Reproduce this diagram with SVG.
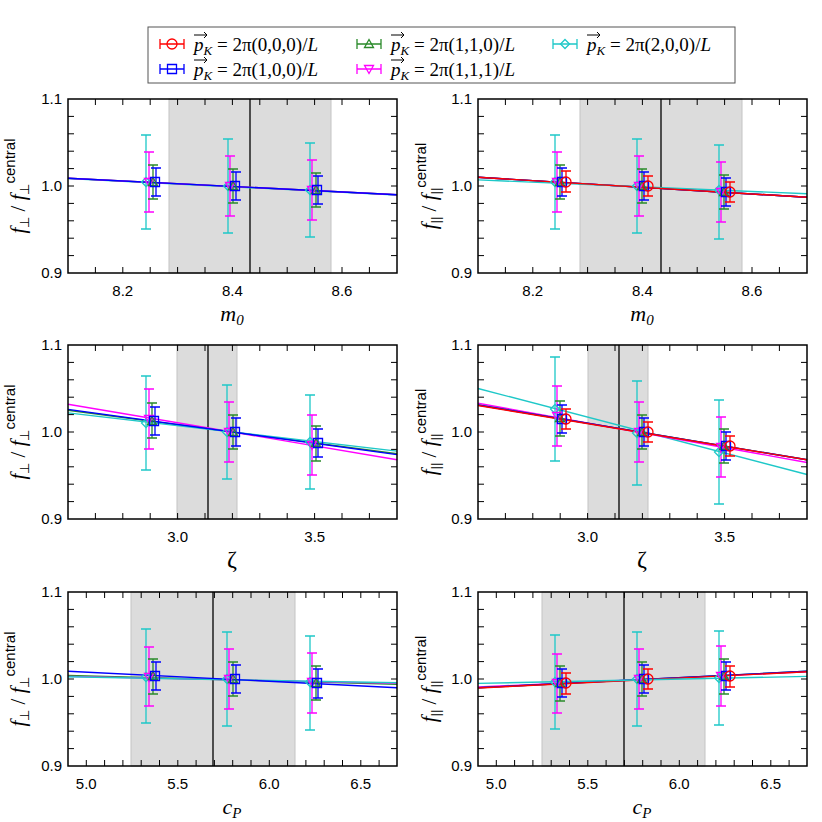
<svg xmlns="http://www.w3.org/2000/svg" xmlns:xlink="http://www.w3.org/1999/xlink" width="822" height="822" viewBox="0 0 822 822">
<style>
.frame{fill:none;stroke:#000;stroke-width:1.5}
.tk{fill:none;stroke:#000;stroke-width:1}
.shade{fill:#dcdcdc;stroke:#c4c4c4;stroke-width:1}
.cl{stroke:#000;stroke-width:1.3}
.num{font-family:"Liberation Sans",Arial,sans-serif;font-size:15px;fill:#000}
.xl{font-family:"Liberation Serif","Times New Roman",serif;font-style:italic;font-size:22px;fill:#000;text-anchor:middle}
.xlu{font-family:"Liberation Serif","Times New Roman",serif;font-size:24px;fill:#000;text-anchor:middle}
.yl{font-family:"Liberation Serif","Times New Roman",serif;font-size:21px;fill:#000;text-anchor:middle}
.it{font-style:italic}
.sub{font-family:"Liberation Sans",Arial,sans-serif;font-size:13px;font-style:normal}
.sup{font-family:"Liberation Sans",Arial,sans-serif;font-size:15px;font-style:normal}
.leg{font-family:"Liberation Serif","Times New Roman",serif;font-size:19px;fill:#000}
.r{stroke:#ff0000}.b{stroke:#0000ff}.g{stroke:#2a8a2a}.m{stroke:#ff00ff}.c{stroke:#1ec8c8}
.fit{fill:none;stroke-width:1.4}
.eb{fill:none;stroke-width:1.3}
.mk{fill:none;stroke-width:1.3}
</style>
<defs>
<path id="circ" d="M-5,0a5,5 0 1,0 10,0a5,5 0 1,0 -10,0"/>
<path id="sq" d="M-4.5,-4.5h9v9h-9z"/>
<path id="tri" d="M0,-4.5L4.5,3.5H-4.5z"/>
<path id="itri" d="M0,4.5L4.5,-3.5H-4.5z"/>
<path id="dia" d="M0,-4.5L4.5,0L0,4.5L-4.5,0z"/>
<path id="yt" d="M0,17.4h6M0,34.8h6M0,52.2h6M0,69.6h6M0,87h6M0,104.4h6M0,121.8h6M0,139.2h6M0,156.6h6M323,17.4h6M323,34.8h6M323,52.2h6M323,69.6h6M323,87h6M323,104.4h6M323,121.8h6M323,139.2h6M323,156.6h6"/>
<path id="xt1" d="M27.4,174v-6M54.8,174v-6M82.2,174v-6M109.6,174v-6M137,174v-6M164.4,174v-6M191.8,174v-6M219.2,174v-6M246.6,174v-6M274,174v-6M301.4,174v-6M27.4,0v6M54.8,0v6M82.2,0v6M109.6,0v6M137,0v6M164.4,0v6M191.8,0v6M219.2,0v6M246.6,0v6M274,0v6M301.4,0v6"/>
<path id="xt2" d="M18.3,174v-6M36.6,174v-6M54.9,174v-6M73.2,174v-6M91.5,174v-6M109.8,174v-6M128.1,174v-6M146.4,174v-6M164.7,174v-6M183,174v-6M201.3,174v-6M219.6,174v-6M237.9,174v-6M256.2,174v-6M274.5,174v-6M292.8,174v-6M311.1,174v-6M18.3,0v6M36.6,0v6M54.9,0v6M73.2,0v6M91.5,0v6M109.8,0v6M128.1,0v6M146.4,0v6M164.7,0v6M183,0v6M201.3,0v6M219.6,0v6M237.9,0v6M256.2,0v6M274.5,0v6M292.8,0v6M311.1,0v6"/>
<g id="ylab" class="num" text-anchor="end"><text x="-6" y="5">1.1</text><text x="-6" y="92">1.0</text><text x="-6" y="179">0.9</text></g>
</defs>

<g id="legend">
<rect x="148" y="27" width="587" height="56" fill="#fff" stroke="#555" stroke-width="1"/>
<g class="eb">
<path class="r" d="M160,44h24M160,39v10M184,39v10"/><use href="#circ" x="172" y="44" class="mk r"/>
<path class="b" d="M160,69h24M160,64v10M184,64v10"/><use href="#sq" x="172" y="69" class="mk b"/>
<path class="g" d="M357,44h24M357,39v10M381,39v10"/><use href="#tri" x="369" y="44" class="mk g"/>
<path class="m" d="M357,69h24M357,64v10M381,64v10"/><use href="#itri" x="369" y="69" class="mk m"/>
<path class="c" d="M553,44h24M553,39v10M577,39v10"/><use href="#dia" x="565" y="44" class="mk c"/>
</g>
<g fill="none" stroke="#000" stroke-width="1">
<path d="M194,35h13m-3,-3l3,3l-3,3M194,60h13m-3,-3l3,3l-3,3M391,35h13m-3,-3l3,3l-3,3M391,60h13m-3,-3l3,3l-3,3M587,35h13m-3,-3l3,3l-3,3"/>
</g>
<text class="leg" x="194" y="51"><tspan class="it">p</tspan><tspan class="it" font-size="13" dy="4">K</tspan><tspan dy="-4"> = 2π(0,0,0)/</tspan><tspan class="it">L</tspan></text>
<text class="leg" x="194" y="76"><tspan class="it">p</tspan><tspan class="it" font-size="13" dy="4">K</tspan><tspan dy="-4"> = 2π(1,0,0)/</tspan><tspan class="it">L</tspan></text>
<text class="leg" x="391" y="51"><tspan class="it">p</tspan><tspan class="it" font-size="13" dy="4">K</tspan><tspan dy="-4"> = 2π(1,1,0)/</tspan><tspan class="it">L</tspan></text>
<text class="leg" x="391" y="76"><tspan class="it">p</tspan><tspan class="it" font-size="13" dy="4">K</tspan><tspan dy="-4"> = 2π(1,1,1)/</tspan><tspan class="it">L</tspan></text>
<text class="leg" x="587" y="51"><tspan class="it">p</tspan><tspan class="it" font-size="13" dy="4">K</tspan><tspan dy="-4"> = 2π(2,0,0)/</tspan><tspan class="it">L</tspan></text>
</g>

<g id="ytitles">
<text class="yl" transform="translate(25,186) rotate(-90)"><tspan class="it">f</tspan><tspan class="sub" dy="4">⊥</tspan><tspan dy="-4"> / </tspan><tspan class="it">f</tspan><tspan class="sub" dy="4">⊥</tspan><tspan class="sup" dy="-14">central</tspan></text>
<text class="yl" transform="translate(25,432) rotate(-90)"><tspan class="it">f</tspan><tspan class="sub" dy="4">⊥</tspan><tspan dy="-4"> / </tspan><tspan class="it">f</tspan><tspan class="sub" dy="4">⊥</tspan><tspan class="sup" dy="-14">central</tspan></text>
<text class="yl" transform="translate(25,679) rotate(-90)"><tspan class="it">f</tspan><tspan class="sub" dy="4">⊥</tspan><tspan dy="-4"> / </tspan><tspan class="it">f</tspan><tspan class="sub" dy="4">⊥</tspan><tspan class="sup" dy="-14">central</tspan></text>
<text class="yl" transform="translate(436,186) rotate(-90)"><tspan class="it">f</tspan><tspan class="sub" dy="4">||</tspan><tspan dy="-4"> / </tspan><tspan class="it">f</tspan><tspan class="sub" dy="4">||</tspan><tspan class="sup" dy="-14">central</tspan></text>
<text class="yl" transform="translate(436,432) rotate(-90)"><tspan class="it">f</tspan><tspan class="sub" dy="4">||</tspan><tspan dy="-4"> / </tspan><tspan class="it">f</tspan><tspan class="sub" dy="4">||</tspan><tspan class="sup" dy="-14">central</tspan></text>
<text class="yl" transform="translate(436,679) rotate(-90)"><tspan class="it">f</tspan><tspan class="sub" dy="4">||</tspan><tspan dy="-4"> / </tspan><tspan class="it">f</tspan><tspan class="sub" dy="4">||</tspan><tspan class="sup" dy="-14">central</tspan></text>
</g>

<g id="panel-tl" transform="translate(68,99)">
<rect class="shade" x="101" y="0" width="162" height="174"/><path class="cl" d="M182,0V174"/>
<use href="#yt" class="tk"/><use href="#xt1" class="tk"/><use href="#ylab"/>
<g class="num" text-anchor="middle"><text x="54.8" y="197">8.2</text><text x="164.4" y="197">8.4</text><text x="274" y="197">8.6</text></g>
<text class="xl" x="164" y="222">m<tspan font-size="15" dy="4">0</tspan></text>
<g class="fit"><path class="c" d="M0,79.5L329,96"/><path class="g" d="M0,79.2L329,95.7"/><path class="m" d="M0,79.2L329,95.7"/><path class="b" d="M0,79.2L329,95.7"/></g>
<g class="eb">
<path class="c" d="M78,36V130M73,36h10M73,130h10M160,40V134M155,40h10M155,134h10M242,44V138M237,44h10M237,138h10"/>
<path class="m" d="M81,53V113M76,53h10M76,113h10M162,57V117M157,57h10M157,117h10M244,61V121M239,61h10M239,121h10"/>
<path class="g" d="M85,66V100M80,66h10M80,100h10M165,70V104M160,70h10M160,104h10M248,74V108M243,74h10M243,108h10"/>
<path class="b" d="M88,69V97M83,69h10M83,97h10M168,73V101M163,73h10M163,101h10M250,77V105M245,77h10M245,105h10"/>
</g>
<g class="mk"><use href="#dia" class="c" x="78" y="83"/><use href="#dia" class="c" x="160" y="87"/><use href="#dia" class="c" x="242" y="91"/>
<use href="#itri" class="m" x="81" y="83"/><use href="#itri" class="m" x="162" y="87"/><use href="#itri" class="m" x="244" y="91"/>
<use href="#tri" class="g" x="85" y="83"/><use href="#tri" class="g" x="165" y="87"/><use href="#tri" class="g" x="248" y="91"/>
<use href="#sq" class="b" x="87" y="83"/><use href="#sq" class="b" x="167" y="87"/><use href="#sq" class="b" x="249" y="91"/></g>
<rect class="frame" width="329" height="174"/>
</g>

<g id="panel-tr" transform="translate(478,99)">
<rect class="shade" x="102" y="0" width="162" height="174"/><path class="cl" d="M183,0V174"/>
<use href="#yt" class="tk"/><use href="#xt1" class="tk"/><use href="#ylab"/>
<g class="num" text-anchor="middle"><text x="54.8" y="197">8.2</text><text x="164.4" y="197">8.4</text><text x="274" y="197">8.6</text></g>
<text class="xl" x="164" y="222">m<tspan font-size="15" dy="4">0</tspan></text>
<g class="fit"><path class="m" d="M0,78.3L329,98.3"/><path class="g" d="M0,78.3L329,98.3"/><path class="b" d="M0,78.3L329,98.3"/><path class="c" d="M0,80.9L329,94.8"/><path class="r" d="M0,78.3L329,98.3"/></g>
<g class="eb">
<path class="c" d="M77,36V130M72,36h10M72,130h10M159,40V134M154,40h10M154,134h10M241,46V140M236,46h10M236,140h10"/>
<path class="m" d="M79,53V113M74,53h10M74,113h10M161,57V117M156,57h10M156,117h10M243,63V123M238,63h10M238,123h10"/>
<path class="g" d="M82,66V100M77,66h10M77,100h10M164,70V104M159,70h10M159,104h10M246,76V110M241,76h10M241,110h10"/>
<path class="b" d="M84,69V97M79,69h10M79,97h10M166,73V101M161,73h10M161,101h10M248,79V107M243,79h10M243,107h10"/>
<path class="r" d="M88,72V93M83,72h10M83,93h10M170,77V97M165,77h10M165,97h10M252,83V103M247,83h10M247,103h10"/>
</g>
<g class="mk"><use href="#dia" class="c" x="77" y="83"/><use href="#dia" class="c" x="159" y="87"/><use href="#dia" class="c" x="241" y="91"/>
<use href="#itri" class="m" x="79" y="83"/><use href="#itri" class="m" x="161" y="87"/><use href="#itri" class="m" x="243" y="93"/>
<use href="#tri" class="g" x="82" y="83"/><use href="#tri" class="g" x="164" y="87"/><use href="#tri" class="g" x="246" y="93"/>
<use href="#sq" class="b" x="84" y="83"/><use href="#sq" class="b" x="166" y="87"/><use href="#sq" class="b" x="248" y="93"/>
<use href="#circ" class="r" x="88" y="83"/><use href="#circ" class="r" x="170" y="87"/><use href="#circ" class="r" x="252" y="93"/></g>
<rect class="frame" width="329" height="174"/>
</g>

<g id="panel-ml" transform="translate(68,345)">
<rect class="shade" x="109" y="0" width="60" height="174"/><path class="cl" d="M140,0V174"/>
<use href="#yt" class="tk"/><use href="#xt1" class="tk"/><use href="#ylab"/>
<g class="num" text-anchor="middle"><text x="109.7" y="197">3.0</text><text x="246.8" y="197">3.5</text></g>
<text class="xlu" x="164" y="222">ζ</text>
<g class="fit"><path class="m" d="M0,59.2L329,114.8"/><path class="g" d="M0,65.2L329,108.8"/><path class="c" d="M0,67.9L329,106.1"/><path class="b" d="M0,64.4L329,109.6"/></g>
<g class="eb">
<path class="c" d="M78,31V125M73,31h10M73,125h10M159,40V134M154,40h10M154,134h10M242,50V144M237,50h10M237,144h10"/>
<path class="m" d="M81,44V104M76,44h10M76,104h10M161,57V117M156,57h10M156,117h10M244,70V130M239,70h10M239,130h10"/>
<path class="g" d="M84,58V93M79,58h10M79,93h10M165,70V104M160,70h10M160,104h10M248,81V116M243,81h10M243,116h10"/>
<path class="b" d="M87,62V90M82,62h10M82,90h10M168,73V101M163,73h10M163,101h10M250,84V112M245,84h10M245,112h10"/>
</g>
<g class="mk"><use href="#dia" class="c" x="78" y="78"/><use href="#dia" class="c" x="159" y="87"/><use href="#dia" class="c" x="242" y="97"/>
<use href="#itri" class="m" x="81" y="74"/><use href="#itri" class="m" x="161" y="87"/><use href="#itri" class="m" x="244" y="100"/>
<use href="#tri" class="g" x="84" y="76"/><use href="#tri" class="g" x="165" y="87"/><use href="#tri" class="g" x="248" y="98"/>
<use href="#sq" class="b" x="86" y="76"/><use href="#sq" class="b" x="167" y="87"/><use href="#sq" class="b" x="250" y="98"/></g>
<rect class="frame" width="329" height="174"/>
</g>

<g id="panel-mr" transform="translate(478,345)">
<rect class="shade" x="110" y="0" width="60" height="174"/><path class="cl" d="M141,0V174"/>
<use href="#yt" class="tk"/><use href="#xt1" class="tk"/><use href="#ylab"/>
<g class="num" text-anchor="middle"><text x="109.7" y="197">3.0</text><text x="246.8" y="197">3.5</text></g>
<text class="xlu" x="164" y="222">ζ</text>
<g class="fit"><path class="c" d="M0,43.5L329,129.5"/><path class="m" d="M0,58.3L329,117.5"/><path class="g" d="M0,60L329,114.8"/><path class="b" d="M0,60L329,114.8"/><path class="r" d="M0,60.5L329,114.8"/></g>
<g class="eb">
<path class="c" d="M77,12V116M72,12h10M72,116h10M159,36V140M154,36h10M154,140h10M241,55V159M236,55h10M236,159h10"/>
<path class="m" d="M79,41V101M74,41h10M74,101h10M161,57V117M156,57h10M156,117h10M243,72V132M238,72h10M238,132h10"/>
<path class="g" d="M82,56V91M77,56h10M77,91h10M164,70V104M159,70h10M159,104h10M246,84V118M241,84h10M241,118h10"/>
<path class="b" d="M84,60V88M79,60h10M79,88h10M166,73V101M161,73h10M161,101h10M248,87V115M243,87h10M243,115h10"/>
<path class="r" d="M88,64V84M83,64h10M83,84h10M170,77V97M165,77h10M165,97h10M252,91V111M247,91h10M247,111h10"/>
</g>
<g class="mk"><use href="#dia" class="c" x="77" y="64"/><use href="#dia" class="c" x="159" y="88"/><use href="#dia" class="c" x="241" y="107"/>
<use href="#itri" class="m" x="79" y="71"/><use href="#itri" class="m" x="161" y="87"/><use href="#itri" class="m" x="243" y="102"/>
<use href="#tri" class="g" x="82" y="73"/><use href="#tri" class="g" x="164" y="87"/><use href="#tri" class="g" x="246" y="101"/>
<use href="#sq" class="b" x="84" y="74"/><use href="#sq" class="b" x="166" y="87"/><use href="#sq" class="b" x="248" y="101"/>
<use href="#circ" class="r" x="88" y="74"/><use href="#circ" class="r" x="170" y="87"/><use href="#circ" class="r" x="252" y="101"/></g>
<rect class="frame" width="329" height="174"/>
</g>

<g id="panel-bl" transform="translate(68,592)">
<rect class="shade" x="63" y="0" width="164" height="174"/><path class="cl" d="M145,0V174"/>
<use href="#yt" class="tk"/><use href="#xt2" class="tk"/><use href="#ylab"/>
<g class="num" text-anchor="middle"><text x="18.3" y="197">5.0</text><text x="109.8" y="197">5.5</text><text x="201.3" y="197">6.0</text><text x="292.8" y="197">6.5</text></g>
<text class="xl" x="164" y="222">c<tspan font-size="15" dy="4">P</tspan></text>
<g class="fit"><path class="g" d="M0,83.5L329,92.2"/><path class="m" d="M0,84.4L329,91.4"/><path class="c" d="M0,84.8L329,90.8"/><path class="b" d="M0,79.2L329,95.7"/></g>
<g class="eb">
<path class="c" d="M78,37V131M73,37h10M73,131h10M159,40V134M154,40h10M154,134h10M242,44V138M237,44h10M237,138h10"/>
<path class="m" d="M81,55V114M76,55h10M76,114h10M161,57V117M156,57h10M156,117h10M244,61V121M239,61h10M239,121h10"/>
<path class="g" d="M85,67V102M80,67h10M80,102h10M165,70V104M160,70h10M160,104h10M248,74V108M243,74h10M243,108h10"/>
<path class="b" d="M88,70V98M83,70h10M83,98h10M168,73V101M163,73h10M163,101h10M250,77V106M245,77h10M245,106h10"/>
</g>
<g class="mk"><use href="#dia" class="c" x="78" y="85"/><use href="#dia" class="c" x="159" y="87"/><use href="#dia" class="c" x="242" y="90"/>
<use href="#itri" class="m" x="81" y="85"/><use href="#itri" class="m" x="161" y="87"/><use href="#itri" class="m" x="244" y="90"/>
<use href="#tri" class="g" x="85" y="84"/><use href="#tri" class="g" x="165" y="87"/><use href="#tri" class="g" x="248" y="91"/>
<use href="#sq" class="b" x="87" y="84"/><use href="#sq" class="b" x="167" y="87"/><use href="#sq" class="b" x="249" y="91"/></g>
<rect class="frame" width="329" height="174"/>
</g>

<g id="panel-br" transform="translate(478,592)">
<rect class="shade" x="64" y="0" width="163" height="174"/><path class="cl" d="M146,0V174"/>
<use href="#yt" class="tk"/><use href="#xt2" class="tk"/><use href="#ylab"/>
<g class="num" text-anchor="middle"><text x="18.3" y="197">5.0</text><text x="109.8" y="197">5.5</text><text x="201.3" y="197">6.0</text><text x="292.8" y="197">6.5</text></g>
<text class="xl" x="164" y="222">c<tspan font-size="15" dy="4">P</tspan></text>
<g class="fit"><path class="m" d="M0,95L329,79.8"/><path class="g" d="M0,95.7L329,79.2"/><path class="b" d="M0,95.7L329,79.2"/><path class="r" d="M0,96L329,79.8"/><path class="c" d="M0,91.4L329,84.4"/></g>
<g class="eb">
<path class="c" d="M77,43V137M72,43h10M72,137h10M159,40V134M154,40h10M154,134h10M241,39V133M236,39h10M236,133h10"/>
<path class="m" d="M79,62V121M74,62h10M74,121h10M161,57V117M156,57h10M156,117h10M243,54V114M238,54h10M238,114h10"/>
<path class="g" d="M82,74V109M77,74h10M77,109h10M164,70V104M159,70h10M159,104h10M246,67V102M241,67h10M241,102h10"/>
<path class="b" d="M84,77V105M79,77h10M79,105h10M166,73V101M161,73h10M161,101h10M248,70V98M243,70h10M243,98h10"/>
<path class="r" d="M88,81V102M83,81h10M83,102h10M170,77V97M165,77h10M165,97h10M252,74V95M247,74h10M247,95h10"/>
</g>
<g class="mk"><use href="#dia" class="c" x="77" y="90"/><use href="#dia" class="c" x="159" y="87"/><use href="#dia" class="c" x="241" y="86"/>
<use href="#itri" class="m" x="79" y="91"/><use href="#itri" class="m" x="161" y="87"/><use href="#itri" class="m" x="243" y="84"/>
<use href="#tri" class="g" x="82" y="91"/><use href="#tri" class="g" x="164" y="87"/><use href="#tri" class="g" x="246" y="84"/>
<use href="#sq" class="b" x="84" y="91"/><use href="#sq" class="b" x="166" y="87"/><use href="#sq" class="b" x="248" y="84"/>
<use href="#circ" class="r" x="88" y="91"/><use href="#circ" class="r" x="170" y="87"/><use href="#circ" class="r" x="252" y="84"/></g>
<rect class="frame" width="329" height="174"/>
</g>
</svg>
